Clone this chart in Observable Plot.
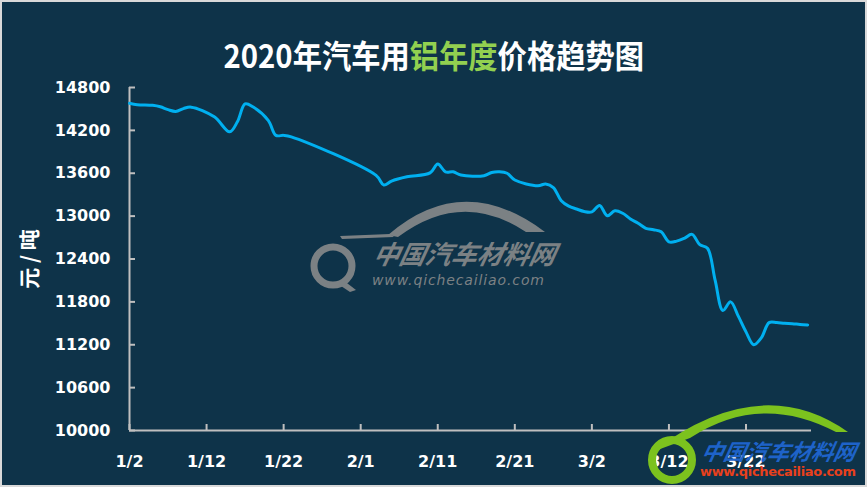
<!DOCTYPE html>
<html><head><meta charset="utf-8">
<script src="https://cdn.jsdelivr.net/npm/d3@7"></script>
<script src="https://cdn.jsdelivr.net/npm/@observablehq/plot@0.6"></script>
<style>
body{margin:0;background:#fff;}
#wrap{position:relative;width:867px;height:487px;background:#0e3349;overflow:hidden;}
#title{height:70px;box-sizing:border-box;padding-top:38px;text-align:center;color:#fff;font:bold 32px/32px "Noto Sans CJK SC",sans-serif;white-space:nowrap;}
#title span.t{display:inline-block;transform:scaleX(0.915);}
#title .g{color:#92d050;}
#chart svg{display:block;}
#wm{position:absolute;left:0;top:0;pointer-events:none;}
#border{position:absolute;left:0;top:0;width:867px;height:487px;box-sizing:border-box;border:2px solid #d9d9d9;pointer-events:none;}
</style></head>
<body>
<div id="wrap">
  <div id="title"><span class="t">2020年汽车用<span class="g">铝年度</span>价格趋势图</span></div>
  <div id="chart"></div>
  <svg id="wm" width="867" height="487">
    <g fill="#8f8f8f" opacity="0.85">
      <path d="M388,235 Q463,170 545,232 L526,232 Q462,189 398,237 Z"/>
      <path d="M340,236 L390,234 L394,237 L342,239 Z"/>
      <circle cx="333" cy="266" r="19" fill="none" stroke="#8f8f8f" stroke-width="7"/>
      <path d="M343,280 L356,290 L350,292 L338,284 Z"/>
      <text x="372" y="264" font-family="Noto Sans CJK SC" font-weight="bold" font-style="italic" font-size="26" transform="skewX(-12) translate(56,0)">中国汽车材料网</text>
      <text x="372" y="285" font-family="DejaVu Sans" font-style="italic" font-size="14" textLength="172">www.qichecailiao.com</text>
    </g>
    <g>
      <path d="M652,452 Q760,370 848,432 L836,432 Q760,392 690,438 Z" fill="#7cc21e"/>
      <circle cx="672" cy="460" r="20" fill="none" stroke="#7cc21e" stroke-width="8"/>
      <text x="700" y="460" fill="#1e63c9" font-family="Noto Sans CJK SC" font-weight="bold" font-style="italic" font-size="22" transform="skewX(-12) translate(98,0)">中国汽车材料网</text>
      <text x="700" y="476" fill="#e8401c" font-family="DejaVu Sans" font-weight="bold" font-size="13" textLength="156">www.qichecailiao.com</text>
    </g>
  </svg>
  <div id="border"></div>
</div>
<script>
const dates = ["2020-01-02","2020-01-03","2020-01-05","2020-01-06","2020-01-07","2020-01-08","2020-01-09","2020-01-10","2020-01-13","2020-01-15","2020-01-16","2020-01-17","2020-01-18","2020-01-20","2020-01-21","2020-01-22","2020-01-23","2020-02-03","2020-02-04","2020-02-05","2020-02-07","2020-02-10","2020-02-11","2020-02-12","2020-02-13","2020-02-14","2020-02-17","2020-02-18","2020-02-19","2020-02-20","2020-02-21","2020-02-24","2020-02-25","2020-02-26","2020-02-27","2020-02-28","2020-02-29","2020-03-01","2020-03-02","2020-03-03","2020-03-04","2020-03-05","2020-03-06","2020-03-07","2020-03-08","2020-03-09","2020-03-10","2020-03-11","2020-03-12","2020-03-13","2020-03-14","2020-03-15","2020-03-16","2020-03-17","2020-03-18","2020-03-19","2020-03-20","2020-03-21","2020-03-22","2020-03-23","2020-03-24","2020-03-25","2020-03-26","2020-03-27","2020-03-28","2020-03-29","2020-03-30"];
const prices = [14580,14560,14550,14530,14490,14465,14505,14525,14390,14180,14320,14570,14530,14340,14130,14130,14110,13570,13435,13490,13550,13605,13730,13620,13620,13575,13566,13610,13620,13600,13505,13425,13450,13400,13220,13140,13100,13065,13060,13150,13005,13075,13040,12960,12900,12830,12810,12780,12640,12650,12690,12745,12600,12550,12100,11680,11800,11600,11380,11200,11300,11510,11510,11500,11495,11485,11478];
const xTickDates = ["2020-01-02","2020-01-12","2020-01-22","2020-02-01","2020-02-11","2020-02-21","2020-03-02","2020-03-12","2020-03-22"];
const yTicks = [10000,10600,11200,11800,12400,13000,13600,14200,14800];
const yTitle = "元 / 吨";

const parse = d3.utcParse("%Y-%m-%d");
const data = dates.map((d,i)=>({date: parse(d), price: prices[i]}));
const xStart = parse("2020-01-02");
const xEnd = new Date(parse("2020-03-30").getTime() + 0.5*864e5);

const axisColor = "#bfbfbf";
const chart = Plot.plot({
  width: 867, height: 417,
  marginTop: 17, marginBottom: 57, marginLeft: 129, marginRight: 56,
  style: {background: "transparent", color: "#fff", fontFamily: "DejaVu Sans, sans-serif", fontSize: "16px", fontWeight: "bold"},
  x: {type: "utc", domain: [xStart, xEnd]},
  y: {domain: [10000, 14800]},
  marks: [
    Plot.axisY({ticks: yTicks, tickFormat: d => String(d), tickSize: -6, tickPadding: 25, stroke: axisColor, strokeWidth: 2, label: null, fill: "#fff"}),
    Plot.axisX({ticks: xTickDates.map(parse), tickFormat: d => `${d.getUTCMonth()+1}/${d.getUTCDate()}`, tickSize: -6, tickPadding: 31, stroke: axisColor, strokeWidth: 2, label: null, fill: "#fff"}),
    Plot.ruleX([xStart], {stroke: axisColor, strokeWidth: 2}),
    Plot.ruleY([10000], {stroke: axisColor, strokeWidth: 2}),
    Plot.text([yTitle], {frameAnchor: "left", textAnchor: "middle", dx: -99, rotate: -90, fontSize: 21, fontWeight: "bold", fill: "#fff", fontFamily: "Noto Sans CJK SC"}),
    Plot.line(data, {x: "date", y: "price", stroke: "#00b0f0", strokeWidth: 3, curve: "catmull-rom"})
  ]
});
document.getElementById("chart").appendChild(chart);
</script>
</body></html>
